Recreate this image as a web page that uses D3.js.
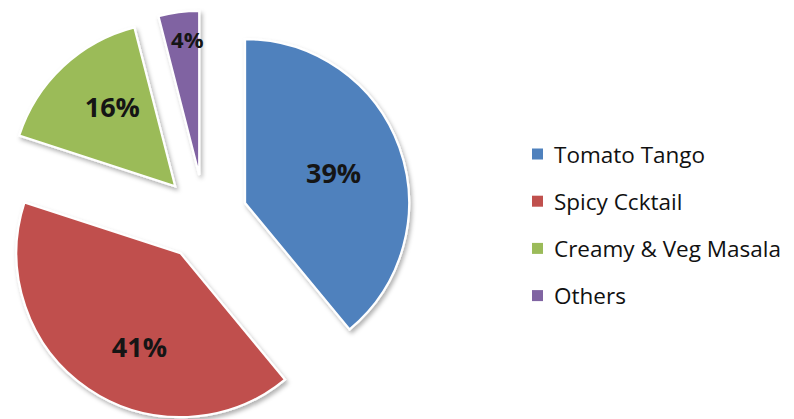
<!DOCTYPE html>
<html>
<head>
<meta charset="utf-8">
<script src="https://cdn.jsdelivr.net/npm/d3@7/dist/d3.min.js"></script>
<style>
  html, body { margin: 0; padding: 0; background: #fff; }
  svg { display: block; }
</style>
</head>
<body>
<svg id="chart" width="794" height="419"></svg>
<script>
// Share of sales by product
const categories = ["Tomato Tango", "Spicy Ccktail", "Creamy & Veg Masala", "Others"];
const shares = [39, 41, 16, 4];
const sliceColors = ["#4F81BD", "#C0504D", "#9BBB59", "#8064A2"];

const width = 794, height = 419;
const cx = 204.6, cy = 217.6;   // pie centre
const radius = 164;
const explode = 43;             // distance each slice is pulled out

// label placement inside each slice: fraction of radius, angular nudge (degrees)
const labelRadiusFrac = [0.57, 0.62, 0.62, 0.835];
const labelAngleNudge = [1, -10.4, 5, 2.2];
const labelSize = [27, 27, 27, 22];

const svg = d3.select("#chart");

// soft drop shadow under each slice
const defs = svg.append("defs");
const f = defs.append("filter").attr("id", "shadow")
  .attr("x", "-20%").attr("y", "-20%").attr("width", "140%").attr("height", "140%");
f.append("feDropShadow")
  .attr("dx", 2).attr("dy", 3).attr("stdDeviation", 2.2)
  .attr("flood-color", "#000").attr("flood-opacity", 0.3);

const data = categories.map((c, i) => ({ name: c, value: shares[i], color: sliceColors[i] }));

const pie = d3.pie().sort(null).value(d => d.value);
const arcs = pie(data);
const total = d3.sum(shares);

const arc = d3.arc().innerRadius(0).outerRadius(radius);

const g = svg.append("g").attr("transform", `translate(${cx},${cy})`);

const slice = g.selectAll("g.slice")
  .data(arcs)
  .join("g")
  .attr("class", "slice")
  .attr("transform", d => {
    const mid = (d.startAngle + d.endAngle) / 2;
    return `translate(${explode * Math.sin(mid)},${-explode * Math.cos(mid)})`;
  });

slice.append("path")
  .attr("d", arc)
  .attr("fill", d => d.data.color)
  .attr("stroke", "#fff")
  .attr("stroke-width", 2.2)
  .attr("stroke-linejoin", "miter")
  .attr("filter", "url(#shadow)");

// percentage labels inside the slices
slice.append("text")
  .attr("transform", d => {
    const mid = (d.startAngle + d.endAngle) / 2;
    const rr = radius * labelRadiusFrac[d.index];
    const a = mid + labelAngleNudge[d.index] * Math.PI / 180;
    return `translate(${rr * Math.sin(a)},${-rr * Math.cos(a)})`;
  })
  .attr("text-anchor", "middle")
  .attr("dominant-baseline", "central")
  .attr("font-family", "'Open Sans', sans-serif")
  .attr("font-weight", 700)
  .attr("font-size", d => labelSize[d.index])
  .attr("fill", "#151515")
  .text(d => Math.round(d.value / total * 100) + "%");

// legend
const legend = svg.append("g").attr("transform", "translate(532,154)");
const item = legend.selectAll("g")
  .data(data)
  .join("g")
  .attr("transform", (d, i) => `translate(0,${i * 47.2})`);

item.append("rect")
  .attr("x", 0).attr("y", -5.5)
  .attr("width", 11).attr("height", 11)
  .attr("fill", d => d.color);

item.append("text")
  .attr("x", 22).attr("y", 0)
  .attr("dominant-baseline", "central")
  .attr("font-family", "'Open Sans', sans-serif")
  .attr("font-size", 22.5)
  .attr("fill", "#111")
  .text(d => d.name);
</script>
</body>
</html>
